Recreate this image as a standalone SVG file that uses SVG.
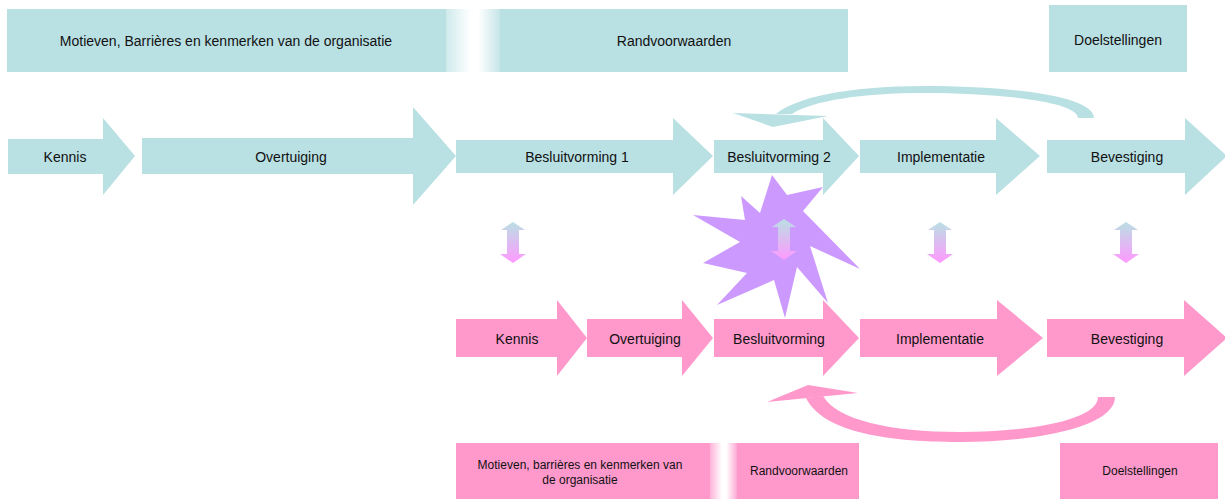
<svg xmlns="http://www.w3.org/2000/svg" width="1225" height="499" viewBox="0 0 1225 499">
  <style>
    .teal { fill: #b9e0e3; }
    .pink { fill: #ff99cc; }
    .star { fill: #cc99ff; }
    .lbl { font-family: "Liberation Sans", Arial, sans-serif; font-size: 14px; fill: #111; text-anchor: middle; dominant-baseline: central; }
    .sm { font-size: 12px; }
  </style>
  <defs>
    <linearGradient id="gapTeal" x1="0" y1="0" x2="1" y2="0">
      <stop offset="0" stop-color="#cfeaec"/>
      <stop offset="0.45" stop-color="#ffffff"/>
      <stop offset="0.6" stop-color="#ffffff"/>
      <stop offset="1" stop-color="#c6e5e8"/>
    </linearGradient>
    <linearGradient id="gapPink" x1="0" y1="0" x2="1" y2="0">
      <stop offset="0" stop-color="#ffb3d9"/>
      <stop offset="0.45" stop-color="#ffffff"/>
      <stop offset="0.6" stop-color="#ffffff"/>
      <stop offset="1" stop-color="#ffa8d3"/>
    </linearGradient>
    <linearGradient id="dbl" x1="0" y1="0" x2="0" y2="1">
      <stop offset="0" stop-color="#b9e0e3"/>
      <stop offset="1" stop-color="#ff99ff"/>
    </linearGradient>
    <path id="dblArrow" d="M0,0 L12,8 L6,8 L6,32 L13,32 L0,41 L-13,32 L-6,32 L-6,8 L-12,8 Z"/>
  </defs>

  <!-- upper context bar -->
  <g id="top-context">
    <rect class="teal" x="7" y="9" width="439" height="63"/>
    <rect x="446" y="9" width="54" height="63" fill="url(#gapTeal)"/>
    <rect class="teal" x="500" y="9" width="348" height="63"/>
    <text class="lbl" x="226" y="41">Motieven, Barrières en kenmerken van de organisatie</text>
    <text class="lbl" x="674" y="41">Randvoorwaarden</text>
  </g>
  <g id="top-doelstellingen">
    <rect class="teal" x="1049" y="5" width="138" height="67"/>
    <text class="lbl" x="1118" y="40">Doelstellingen</text>
  </g>

  <!-- upper phase arrows -->
  <g id="t-kennis">
    <polygon class="teal" points="8,139 103,139 103,118 135,156 103,195 103,174 8,174"/>
    <text class="lbl" x="65" y="157">Kennis</text>
  </g>
  <g id="t-overtuiging">
    <polygon class="teal" points="142,138 413,138 413,107 456,156 413,205 413,174 142,174"/>
    <text class="lbl" x="291" y="157">Overtuiging</text>
  </g>
  <g id="t-besluit1">
    <polygon class="teal" points="456,140 673,140 673,118 713,156 673,195 673,173 456,173"/>
    <text class="lbl" x="577" y="157">Besluitvorming 1</text>
  </g>
  <g id="t-besluit2">
    <polygon class="teal" points="714,140 823,140 823,118 859,156 823,195 823,173 714,173"/>
    <text class="lbl" x="779" y="157">Besluitvorming 2</text>
  </g>
  <g id="t-implementatie">
    <polygon class="teal" points="860,140 996,140 996,118 1040,156 996,195 996,173 860,173"/>
    <text class="lbl" x="941" y="157">Implementatie</text>
  </g>
  <g id="t-bevestiging">
    <polygon class="teal" points="1047,140 1185,140 1185,118 1227,156 1185,195 1185,173 1047,173"/>
    <text class="lbl" x="1127" y="157">Bevestiging</text>
  </g>

  <!-- conflict burst -->
  <g id="burst">
    <polygon class="star" points="772,175 787,195 823,187 803,211 860,269 810,246 828,303 797,267 785,318 774,280 717,305 747,273 703,263 740,242 693,215 745,220 741,196 760,213"/>
  </g>

  <!-- lower phase arrows -->
  <g id="b-kennis">
    <polygon class="pink" points="456,319 557,319 557,300 587,338 557,376 557,357 456,357"/>
    <text class="lbl" x="517" y="339">Kennis</text>
  </g>
  <g id="b-overtuiging">
    <polygon class="pink" points="587,319 682,319 682,300 713,338 682,376 682,357 587,357"/>
    <text class="lbl" x="645" y="339">Overtuiging</text>
  </g>
  <g id="b-besluit">
    <polygon class="pink" points="714,319 823,319 823,300 859,338 823,376 823,357 714,357"/>
    <text class="lbl" x="779" y="339">Besluitvorming</text>
  </g>
  <g id="b-implementatie">
    <polygon class="pink" points="860,319 997,319 997,300 1043,338 997,376 997,357 860,357"/>
    <text class="lbl" x="940" y="339">Implementatie</text>
  </g>
  <g id="b-bevestiging">
    <polygon class="pink" points="1047,319 1184,319 1184,300 1227,338 1184,376 1184,357 1047,357"/>
    <text class="lbl" x="1127" y="339">Bevestiging</text>
  </g>

  <!-- lower context bar -->
  <g id="bottom-context">
    <rect class="pink" x="456" y="443" width="254" height="56"/>
    <rect x="710" y="443" width="27" height="56" fill="url(#gapPink)"/>
    <rect class="pink" x="737" y="443" width="122" height="56"/>
    <text class="lbl sm" x="580" y="465">Motieven, barrières en kenmerken van</text>
    <text class="lbl sm" x="580" y="480">de organisatie</text>
    <text class="lbl sm" x="799" y="471">Randvoorwaarden</text>
  </g>
  <g id="bottom-doelstellingen">
    <rect class="pink" x="1060" y="443" width="158" height="56"/>
    <text class="lbl sm" x="1140" y="471">Doelstellingen</text>
  </g>

  <!-- connectors -->
  <g id="connectors">
    <!-- feedback loop, upper row -->
    <path class="teal" d="M1094,118 C1094,96 1010,86 925,86 C845,86 795,98 776,114 L792,114 C812,101 860,93 925,93 C995,93 1078,101 1078,118 Z"/>
    <polygon class="teal" points="733,113 828,116 773,127"/>
    <!-- feedback loop, lower row -->
    <path class="pink" d="M1115,397 C1115,426 1040,442 960,442 C880,442 822,430 806,398 L823,396 C837,420 890,432 960,432 C1030,432 1098,420 1098,397 Z"/>
    <polygon class="pink" points="767,402 808,385 858,393"/>
    <!-- links between the two rows -->
    <use href="#dblArrow" x="513" y="222" fill="url(#dbl)"/>
    <use href="#dblArrow" x="784" y="219" fill="url(#dbl)"/>
    <use href="#dblArrow" x="940" y="222" fill="url(#dbl)"/>
    <use href="#dblArrow" x="1126" y="222" fill="url(#dbl)"/>
  </g>
</svg>
